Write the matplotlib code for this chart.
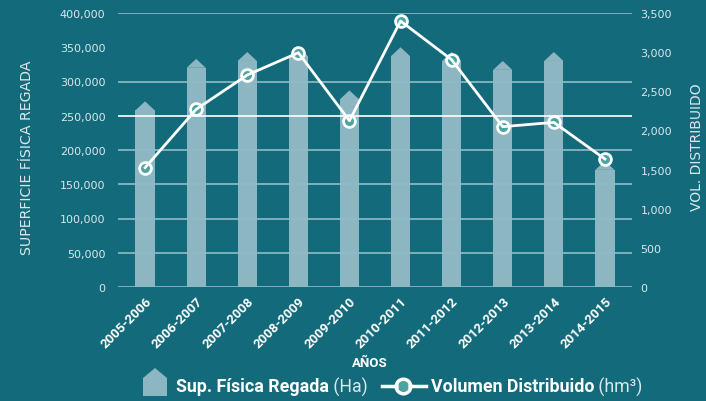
import matplotlib
matplotlib.use("Agg")
import matplotlib.pyplot as plt
from matplotlib.patches import Polygon
from matplotlib.lines import Line2D
import numpy as np

# data
years = ["2005-2006", "2006-2007", "2007-2008", "2008-2009", "2009-2010",
         "2010-2011", "2011-2012", "2012-2013", "2013-2014", "2014-2015"]
superficie = [258000, 320000, 330000, 337000, 274000, 337000, 330000, 317000, 330000, 171000]  # Ha
volumen = [1524, 2270, 2708, 2993, 2124, 3398, 2903, 2048, 2103, 1635]  # hm3
left_ticks = [0, 50000, 100000, 150000, 200000, 250000, 300000, 350000, 400000]
right_ticks = [0, 500, 1000, 1500, 2000, 2500, 3000, 3500]

# colours
BG = "#136a7b"
BAR = "#8cb6c1"
GRID = "#8fbcc7"
TXT = "#d9e8ec"
TEAL = "#4aa5a1"

W, H = 706, 402


def px(x, y):
    # pixel position (top-left origin) -> figure fraction
    return x / W, 1 - y / H


fig = plt.figure(figsize=(W / 100, H / 100), dpi=100, facecolor=BG)
ax = fig.add_axes([118 / W, 1 - 288 / H, (632 - 118) / W, (288 - 14) / H])
ax.set_facecolor(BG)

x = np.arange(len(years))
w = 0.375
roof = 13000  # height of the arrow tip on each bar
ax.bar(x, superficie, width=w, color=BAR, zorder=2, linewidth=0)
for xi, v in zip(x, superficie):
    ax.add_patch(Polygon([(xi - w / 2, v), (xi, v + roof), (xi + w / 2, v)],
                         closed=True, color=BAR, lw=0, zorder=2))

# grid lines (drawn over the bars, the 350,000 line is not shown)
for v in left_ticks:
    if v == 350000:
        continue
    ax.axhline(v, color="white" if v == 250000 else GRID, lw=1.2, zorder=3)

ax.set_xlim(-0.53, 9.53)
ax.set_ylim(0, 400000)
ax.set_yticks(left_ticks, [f"{v:,}" for v in left_ticks])
ax.set_xticks(x, years, rotation=45, ha="right", rotation_mode="anchor",
              fontweight="bold", family="Roboto", fontsize=9.5, color="white")
ax.tick_params(axis="y", length=0, colors=TXT, labelsize=8, pad=9)
ax.tick_params(axis="x", length=0, pad=5)
for s in ax.spines.values():
    s.set_visible(False)

ax2 = ax.twinx()
# markers first, the line runs over them
ax2.plot(x, volumen, ls="none", marker="o", ms=8.5,
         mfc=TEAL, mec="white", mew=2, zorder=4)
ax2.plot(x, volumen, color="white", lw=2, zorder=5)
ax2.set_ylim(0, 3500)
ax2.set_yticks(right_ticks, [f"{v:,}" for v in right_ticks])
ax2.tick_params(axis="y", length=0, colors=TXT, labelsize=8, pad=6)
for s in ax2.spines.values():
    s.set_visible(False)

# axis titles
fig.text(*px(27, 158), "SUPERFICIE FÍSICA REGADA", rotation=90, ha="center",
         va="center", color=TXT, fontsize=10.2)
fig.text(*px(697, 147), "VOL. DISTRIBUIDO", rotation=90, ha="center",
         va="center", color=TXT, fontsize=10)
fig.text(*px(370, 364), "AÑOS", ha="center", va="center", color="white",
         fontweight="bold", family="Roboto", fontsize=9.5)

# legend built by hand
house = [px(143, 397), px(143, 379), px(155, 369), px(167, 379), px(167, 397)]
fig.patches.append(Polygon(house, closed=True, color=BAR, lw=0,
                           transform=fig.transFigure))
t1 = fig.text(*px(176, 387), "Sup. Física Regada", ha="left", va="center",
              color="white", fontweight="bold", family="Roboto", fontsize=12.8)
fig.add_artist(Line2D([403 / W], [1 - 387 / H], marker="o", ms=10.5, mfc=TEAL,
                      mec="white", mew=2.5, transform=fig.transFigure))
fig.add_artist(Line2D([382 / W, 426 / W], [1 - 387 / H] * 2, color="white", lw=2.5,
                      transform=fig.transFigure))
fig.add_artist(Line2D([403 / W], [1 - 387 / H], marker="o", ms=7, mfc=TEAL,
                      mec="none", transform=fig.transFigure))
t2 = fig.text(*px(431, 387), "Volumen Distribuido", ha="left", va="center",
              color="white", fontweight="bold", family="Roboto", fontsize=12.8)
ax.annotate(" (Ha)", xy=(1, 0.5), xycoords=t1, va="center", ha="left",
            color=TXT, family="Roboto", fontsize=12.8, annotation_clip=False)
ax.annotate(" (hm³)", xy=(1, 0.5), xycoords=t2, va="center", ha="left",
            color=TXT, family="Roboto", fontsize=12.8, annotation_clip=False)

fig.savefig("out.png", dpi=100, facecolor=BG)
